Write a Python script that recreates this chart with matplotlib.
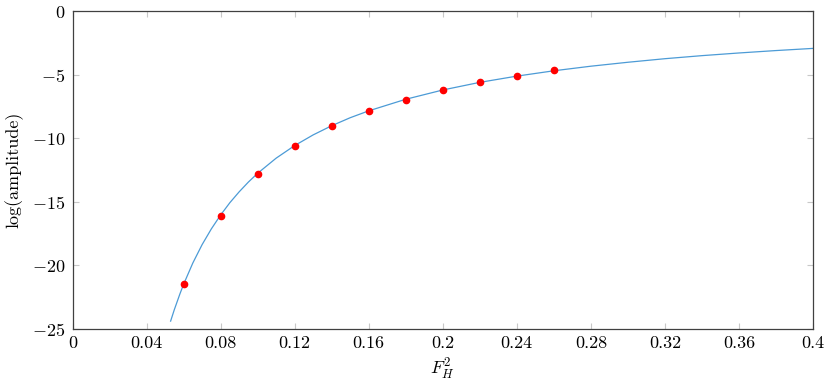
import matplotlib
matplotlib.use("Agg")
import matplotlib.pyplot as plt

# fitted curve
curve_x = [0.053, 0.055, 0.058, 0.06, 0.065, 0.07, 0.075, 0.08, 0.085, 0.09,
           0.095, 0.10, 0.11, 0.12, 0.13, 0.14, 0.15, 0.16, 0.18, 0.20,
           0.22, 0.24, 0.26, 0.28, 0.30, 0.32, 0.34, 0.36, 0.38, 0.40]
curve_y = [-24.38, -23.48, -22.25, -21.49, -19.81, -18.37, -17.13, -16.04, -15.07, -14.22,
           -13.45, -12.76, -11.57, -10.58, -9.74, -9.02, -8.39, -7.85, -6.94, -6.21,
           -5.61, -5.12, -4.70, -4.34, -4.03, -3.75, -3.51, -3.30, -3.11, -2.94]

# measured points
pts_x = [0.06, 0.08, 0.10, 0.12, 0.14, 0.16, 0.18, 0.20, 0.22, 0.24, 0.26]
pts_y = [-21.5, -16.1, -12.85, -10.65, -9.05, -7.9, -7.0, -6.2, -5.6, -5.1, -4.65]

x_ticks = [0, 0.04, 0.08, 0.12, 0.16, 0.2, 0.24, 0.28, 0.32, 0.36, 0.4]
x_labels = ["0", "0.04", "0.08", "0.12", "0.16", "0.2", "0.24", "0.28", "0.32", "0.36", "0.4"]
y_ticks = [-25, -20, -15, -10, -5, 0]
y_labels = [r"$-25$", r"$-20$", r"$-15$", r"$-10$", r"$-5$", r"$0$"]

plt.rcParams["font.family"] = "serif"
plt.rcParams["font.serif"] = ["cmr10", "DejaVu Serif"]
plt.rcParams["mathtext.fontset"] = "cm"
plt.rcParams["axes.formatter.use_mathtext"] = True

fig = plt.figure(figsize=(8.3, 3.84), dpi=100)
ax = fig.add_axes([72.5 / 830, 1 - 329 / 384, (813 - 72.5) / 830, (329 - 11) / 384])

ax.plot(curve_x, curve_y, color="#4C9BD6", linewidth=0.9)
ax.plot(pts_x, pts_y, "o", color="red", markersize=4.5, zorder=3)

ax.set_xlim(0, 0.4)
ax.set_ylim(-25, 0)
ax.set_xticks(x_ticks)
ax.set_xticklabels(x_labels)
ax.set_yticks(y_ticks)
ax.set_yticklabels(y_labels)

ax.tick_params(direction="in", top=True, right=True, length=4, width=0.8,
               color="#c8c8c8", labelsize=13, pad=5)
for s in ax.spines.values():
    s.set_color("#404040")
    s.set_linewidth(0.9)

ax.set_xlabel(r"$F_H^2$", fontsize=13, labelpad=4)
ax.set_ylabel("log(amplitude)", fontsize=13, labelpad=6)

fig.savefig("out.png", dpi=100)
